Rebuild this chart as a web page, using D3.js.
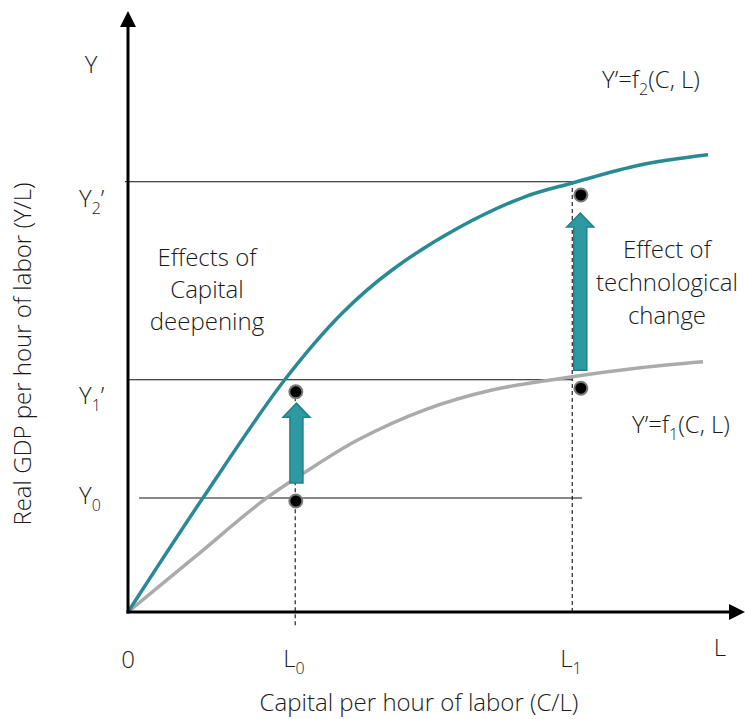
<!DOCTYPE html>
<html><head><meta charset="utf-8">
<script src="https://cdn.jsdelivr.net/npm/d3@7"></script>
<style>
html,body{margin:0;padding:0;background:#fff;}
svg{display:block;font-family:"Open Sans",sans-serif;font-weight:300;}
text{fill:#1a1a1a;}
</style></head>
<body><svg id="c" width="745" height="719"></svg>
<script>
// ---- data (abstract units) ----
const teal = [[0,0],[1.2,1.88],[2.54,3.87],[3.47,4.98],[4.28,5.7],[5.35,6.4],[6.43,6.92],[7.2,7.15],[8.3,7.45],[9.4,7.62]];
const gray = [[0,0],[1.04,0.88],[2.22,1.88],[2.87,2.33],[3.73,2.87],[4.81,3.37],[5.9,3.7],[7.2,3.92],[8.3,4.07],[9.32,4.17]];
const levels = [1.9, 3.87, 7.17];
const levelSpans = [[0.18,7.36],[0,7.2],[-0.05,7.2]];
const caps = [2.71, 7.2];
const capSpans = [[-0.22,3.62],[0,7.15]];
const dots = [[2.72,3.67],[2.72,1.85],[7.34,6.95],[7.34,3.73]];
const arrows = [[2.73,2.15,3.48],[7.33,4.03,6.65]];
const yLabels = [["Y","0",""],["Y","1","’"],["Y","2","’"]];
const xLabels = [["L","0"],["L","1"]];

const svg = d3.select("#c");
const x = d3.scaleLinear().domain([0,10]).range([128,745]);
const y = d3.scaleLinear().domain([0,10]).range([612,12]);
const FS = 24;

// thin guide lines
levels.forEach((v,i)=>{
  svg.append("line").attr("x1",x(levelSpans[i][0])).attr("x2",x(levelSpans[i][1]))
    .attr("y1",y(v)).attr("y2",y(v)).attr("stroke","#111").attr("stroke-width",1.1);
});
caps.forEach((v,i)=>{
  svg.append("line").attr("x1",x(v)).attr("x2",x(v))
    .attr("y1",y(capSpans[i][0])).attr("y2",y(capSpans[i][1]))
    .attr("stroke","#111").attr("stroke-width",1.1).attr("stroke-dasharray","4,3");
});

// curves
const line = d3.line().x(d=>x(d[0])).y(d=>y(d[1])).curve(d3.curveCatmullRom.alpha(0.5));
svg.append("path").attr("d",line(gray)).attr("fill","none").attr("stroke","#ababab").attr("stroke-width",3.5);
svg.append("path").attr("d",line(teal)).attr("fill","none").attr("stroke","#2a8a93").attr("stroke-width",3.5);

// axes
svg.append("line").attr("x1",x(0)).attr("x2",x(0)).attr("y1",y(0)+1.5).attr("y2",y(9.75)).attr("stroke","#000").attr("stroke-width",3);
svg.append("line").attr("x1",x(0)-1.5).attr("x2",x(9.8)).attr("y1",y(0)).attr("y2",y(0)).attr("stroke","#000").attr("stroke-width",3);
svg.append("path").attr("d",`M${x(0)},${y(10)-1} L${x(0)-8},${y(10)+15} L${x(0)+8},${y(10)+15}Z`).attr("fill","#000");
svg.append("path").attr("d",`M${x(10)},${y(0)} L${x(10)-16},${y(0)-8} L${x(10)-16},${y(0)+8}Z`).attr("fill","#000");

// block arrows
const shaftW=13, headW=27, headL=14;
arrows.forEach(a=>{
  const cx=x(a[0]), yb=y(a[1]), yt=y(a[2]);
  const p=`M${cx-shaftW/2},${yb} L${cx-shaftW/2},${yt+headL} L${cx-headW/2},${yt+headL} L${cx},${yt} L${cx+headW/2},${yt+headL} L${cx+shaftW/2},${yt+headL} L${cx+shaftW/2},${yb}Z`;
  svg.append("path").attr("d",p).attr("fill","#2d99a1").attr("stroke","#23808a").attr("stroke-width",1.5);
});

// dots
svg.selectAll("circle.d").data(dots).join("circle").attr("class","d")
  .attr("cx",d=>x(d[0])).attr("cy",d=>y(d[1])).attr("r",6.5)
  .attr("fill","#000").attr("stroke","#7a7a7a").attr("stroke-width",2);

function sub(xx, yy, base, s, suffix, anchor){
  const t = svg.append("text").attr("x",xx).attr("y",yy).attr("font-size",FS).attr("text-anchor",anchor||"start");
  t.append("tspan").text(base);
  t.append("tspan").text(s).attr("font-size",16).attr("dy",7);
  if(suffix) t.append("tspan").text(suffix).attr("dy",-7);
  return t;
}

// y level labels
const yOff = [6, 24, 25];
levels.forEach((v,i)=> sub(79, y(v)+yOff[i], yLabels[i][0], yLabels[i][1], yLabels[i][2]));
svg.append("text").attr("x",91).attr("y",73).attr("text-anchor","middle").attr("font-size",FS).text("Y");

// x labels
svg.append("text").attr("x",x(0)).attr("y",668).attr("text-anchor","middle").attr("font-size",FS).text("0");
caps.forEach((v,i)=> sub(x(v)-12, 667, xLabels[i][0], xLabels[i][1], ""));
svg.append("text").attr("x",720).attr("y",656).attr("text-anchor","middle").attr("font-size",FS).text("L");

// function labels
sub(602, 88, "Y’=f", "2", "(C, L)");
sub(632, 433, "Y’=f", "1", "(C, L)");

// annotations
[["Effects of",266],["Capital",298],["deepening",330]].forEach(d=>
  svg.append("text").attr("x",207).attr("y",d[1]).attr("text-anchor","middle").attr("font-size",FS).text(d[0]));
[["Effect of",258],["technological",291],["change",324]].forEach(d=>
  svg.append("text").attr("x",667).attr("y",d[1]).attr("text-anchor","middle").attr("font-size",FS).text(d[0]));

// axis titles
svg.append("text").attr("x",419).attr("y",711).attr("text-anchor","middle").attr("font-size",FS).text("Capital per hour of labor (C/L)");
svg.append("text").attr("transform","translate(31,354) rotate(-90)").attr("text-anchor","middle").attr("font-size",FS).text("Real GDP per hour of labor (Y/L)");
</script></body></html>
